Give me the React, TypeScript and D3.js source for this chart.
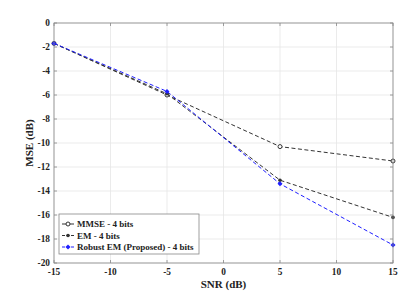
import React from 'react';
import * as d3 from 'd3';

const snr = [-15, -5, 5, 15];
const mmse = [-1.7, -6.0, -10.3, -11.5];
const em = [-1.7, -5.9, -13.1, -16.2];
const robust = [-1.7, -5.7, -13.4, -18.5];
const xTicks = [-15, -10, -5, 0, 5, 10, 15];
const yTicks = [0, -2, -4, -6, -8, -10, -12, -14, -16, -18, -20];
const labels = ['MMSE - 4 bits', 'EM - 4 bits', 'Robust EM (Proposed) - 4 bits'];

const W = 415, H = 296;
const margin = { top: 23, right: 22, bottom: 33, left: 54 };

const App = () => {
  const x = d3.scaleLinear().domain([-15, 15]).range([margin.left, W - margin.right]);
  const y = d3.scaleLinear().domain([-20, 0]).range([H - margin.bottom, margin.top]);
  const ln = d3.line<[number, number]>().x(d => x(d[0])).y(d => y(d[1]));
  const series = [
    { vals: mmse, color: '#333', marker: 'circle' },
    { vals: em, color: '#333', marker: 'dot' },
    { vals: robust, color: '#1f1fff', marker: 'diamond' },
  ];
  const font = '"Liberation Serif", "Times New Roman", serif';
  const x0 = margin.left, x1 = W - margin.right, y0 = margin.top, y1 = H - margin.bottom;

  const mark = (m: string, cx: number, cy: number, c: string, k: any) => {
    if (m === 'circle') return <circle key={k} cx={cx} cy={cy} r={2} fill="white" stroke={c} strokeWidth={1} />;
    if (m === 'dot') return <circle key={k} cx={cx} cy={cy} r={1.8} fill={c} />;
    return <path key={k} d={`M${cx},${cy - 2.5}L${cx + 2.5},${cy}L${cx},${cy + 2.5}L${cx - 2.5},${cy}Z`} fill={c} />;
  };

  return (
    <svg width={W} height={H} style={{ position: 'absolute', left: 0, top: 0, background: 'white' }}>
      <rect x={0} y={0} width={W} height={H} fill="white" />
      {xTicks.map(t => (
        <line key={'gx' + t} x1={x(t)} x2={x(t)} y1={y0} y2={y1} stroke="#e6e6e6" strokeWidth={0.8} />
      ))}
      {yTicks.map(t => (
        <line key={'gy' + t} x1={x0} x2={x1} y1={y(t)} y2={y(t)} stroke="#e6e6e6" strokeWidth={0.8} />
      ))}
      {series.map((s, i) => (
        <g key={i}>
          <path d={ln(snr.map((v, j) => [v, s.vals[j]] as [number, number])) || ''} fill="none"
            stroke={s.color} strokeWidth={1} strokeDasharray="4,2.5" />
          {snr.map((v, j) => mark(s.marker, x(v), y(s.vals[j]), s.color, j))}
        </g>
      ))}
      <rect x={x0} y={y0} width={x1 - x0} height={y1 - y0} fill="none" stroke="#888" strokeWidth={0.8} />
      {xTicks.map(t => (
        <g key={'tx' + t}>
          <line x1={x(t)} x2={x(t)} y1={y1} y2={y1 - 3} stroke="#888" strokeWidth={0.8} />
          <line x1={x(t)} x2={x(t)} y1={y0} y2={y0 + 3} stroke="#888" strokeWidth={0.8} />
          <text x={x(t)} y={y1 + 12} textAnchor="middle" fontFamily={font} fontWeight="bold" fontSize={9.3} fill="#222">{t}</text>
        </g>
      ))}
      {yTicks.map(t => (
        <g key={'ty' + t}>
          <line x1={x0} x2={x0 + 3} y1={y(t)} y2={y(t)} stroke="#888" strokeWidth={0.8} />
          <line x1={x1} x2={x1 - 3} y1={y(t)} y2={y(t)} stroke="#888" strokeWidth={0.8} />
          <text x={x0 - 4} y={y(t) + 3} textAnchor="end" fontFamily={font} fontWeight="bold" fontSize={9.3} fill="#222">{t}</text>
        </g>
      ))}
      <text x={(x0 + x1) / 2} y={H - 8} textAnchor="middle" fontFamily={font} fontWeight="bold" fontSize={11} fill="#222">SNR (dB)</text>
      <text transform={`translate(33,${(y0 + y1) / 2}) rotate(-90)`} textAnchor="middle" fontFamily={font} fontWeight="bold" fontSize={11} fill="#222">MSE (dB)</text>
      <g>
        <rect x={59} y={214} width={140} height={40} fill="white" stroke="#888" strokeWidth={0.8} />
        {series.map((s, i) => {
          const ly = 224 + i * 11.5;
          return (
            <g key={'lg' + i}>
              <line x1={62} x2={74} y1={ly} y2={ly} stroke={s.color} strokeWidth={1} strokeDasharray={i === 0 ? 'none' : '3,1.5'} />
              {mark(s.marker, 68, ly, s.color, 'm')}
              <text x={77} y={ly + 3} fontFamily={font} fontWeight="bold" fontSize={9} fill="#222">{labels[i]}</text>
            </g>
          );
        })}
      </g>
    </svg>
  );
};

export default App;
